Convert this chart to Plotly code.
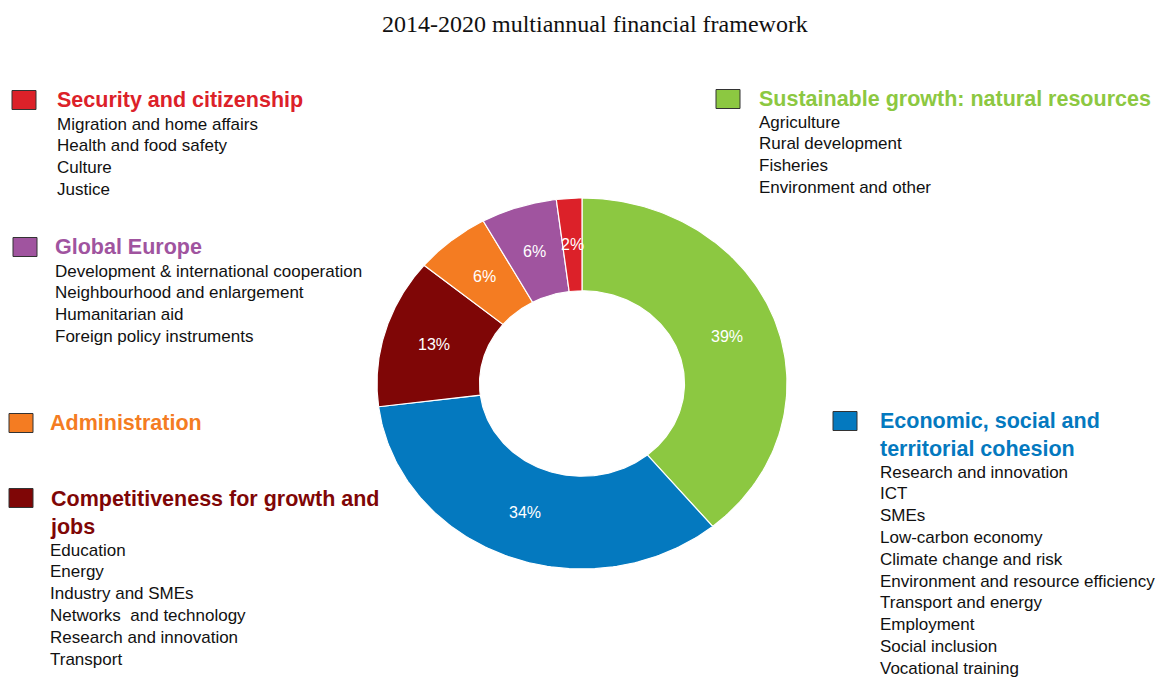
import numpy as np
import plotly.graph_objects as go

# ---- data -------------------------------------------------------------
categories = [
    "Sustainable growth: natural resources",
    "Economic, social and territorial cohesion",
    "Competitiveness for growth and jobs",
    "Administration",
    "Global Europe",
    "Security and citizenship",
]
shares = [39, 34, 13, 6, 6, 2]

sustainable_items = ["Agriculture", "Rural development", "Fisheries", "Environment and other"]
cohesion_items = [
    "Research and innovation", "ICT", "SMEs", "Low-carbon economy",
    "Climate change and risk", "Environment and resource efficiency",
    "Transport and energy", "Employment", "Social inclusion", "Vocational training",
]
competitiveness_items = [
    "Education", "Energy", "Industry and SMEs", "Networks  and technology",
    "Research and innovation", "Transport",
]
administration_items = []
global_items = [
    "Development &amp; international cooperation", "Neighbourhood and enlargement",
    "Humanitarian aid", "Foreign policy instruments",
]
security_items = ["Migration and home affairs", "Health and food safety", "Culture", "Justice"]

# ---- styling ----------------------------------------------------------
colors = ["#8CC841", "#0479BF", "#7F0606", "#F47C22", "#A0549F", "#DC2129"]
W, H = 1158, 677
CX, CY = 582, 383.5          # donut centre (pixels)
RX, RY = 205, 185.5          # outer radii
HOLE = 0.5                   # inner / outer radius
LABEL_R = 0.75

# block layout: box x, text x, heading centre y, first item y, box centre y
blocks = [
    dict(box=716, tx=757, ty=99, head="Sustainable growth: natural resources", items=sustainable_items, iy=122),
    dict(box=833, tx=878, ty=435, head="Economic, social and<br>territorial cohesion", items=cohesion_items, iy=472, by=421),
    dict(box=9, tx=48, ty=513, head="Competitiveness for growth and<br>jobs", items=competitiveness_items, iy=550, by=498),
    dict(box=9, tx=48, ty=423, head="Administration", items=administration_items, iy=0),
    dict(box=13, tx=53, ty=247, head="Global Europe", items=global_items, iy=271),
    dict(box=12, tx=55, ty=100, head="Security and citizenship", items=security_items, iy=124),
]
LINE = 21.8
FONT = "Liberation Sans, Arial"

fig = go.Figure()

# donut wedges, clockwise from 12 o'clock
total = sum(shares)
start = 0.0
for name, val, col in zip(categories, shares, colors):
    a0 = start / total * 2 * np.pi
    a1 = (start + val) / total * 2 * np.pi
    t = np.linspace(a0, a1, 120)
    xo = CX + RX * np.sin(t)
    yo = CY - RY * np.cos(t)
    xi = CX + HOLE * RX * np.sin(t[::-1])
    yi = CY - HOLE * RY * np.cos(t[::-1])
    xs = np.concatenate([xo, xi, xo[:1]])
    ys = np.concatenate([yo, yi, yo[:1]])
    fig.add_trace(go.Scatter(
        x=xs, y=ys, mode="lines", fill="toself", fillcolor=col,
        line=dict(color="white", width=1.2), name=name, hoverinfo="skip",
    ))
    am = (a0 + a1) / 2
    fig.add_annotation(
        x=CX + LABEL_R * RX * np.sin(am), y=CY - LABEL_R * RY * np.cos(am),
        text=f"{val}%", showarrow=False, xref="x", yref="y",
        font=dict(family=FONT, size=16, color="white"),
    )
    start += val

# headings, colour boxes and item lists
for b, col in zip(blocks, colors):
    by = b.get("by", b["ty"])
    fig.add_shape(type="rect", xref="x", yref="y",
                  x0=b["box"], x1=b["box"] + 24, y0=by - 9.5, y1=by + 9.5,
                  fillcolor=col, line=dict(color="#333333", width=1))
    fig.add_annotation(x=b["tx"], y=b["ty"], text=f"<b>{b['head']}</b>", showarrow=False,
                       xref="x", yref="y", xanchor="left", yanchor="middle", align="left",
                       font=dict(family=FONT, size=21.5, color=col))
    for i, item in enumerate(b["items"]):
        fig.add_annotation(x=b["tx"], y=b["iy"] + i * LINE, text=item, showarrow=False,
                           xref="x", yref="y", xanchor="left", yanchor="middle",
                           font=dict(family=FONT, size=17, color="#111111"))

fig.add_annotation(x=W / 2 + 16, y=24, text="2014-2020 multiannual financial framework",
                   showarrow=False, xref="x", yref="y", xanchor="center", yanchor="middle",
                   font=dict(family="Liberation Serif, Times New Roman", size=24, color="#111111"))

fig.update_layout(
    width=W, height=H, margin=dict(l=0, r=0, t=0, b=0),
    paper_bgcolor="white", plot_bgcolor="white", showlegend=False,
    xaxis=dict(range=[0, W], visible=False, fixedrange=True),
    yaxis=dict(range=[H, 0], visible=False, fixedrange=True),
)

fig.write_html("out.html")
